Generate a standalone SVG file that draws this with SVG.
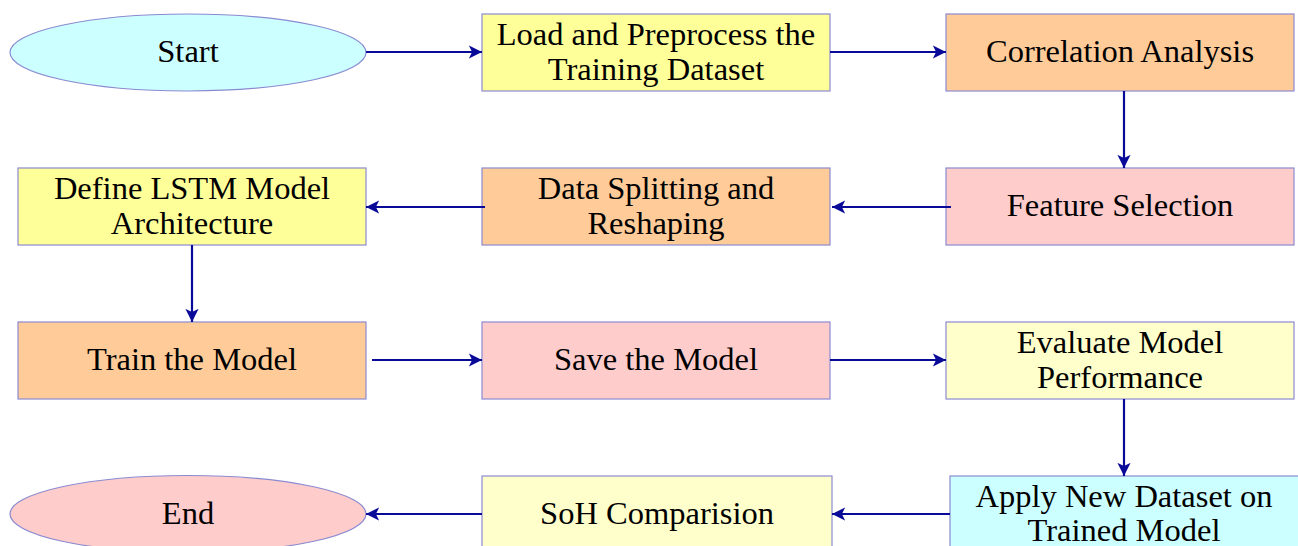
<svg xmlns="http://www.w3.org/2000/svg" width="1298" height="546" viewBox="0 0 1298 546">
<defs>
<marker id="ah" viewBox="0 0 10 10" refX="10" refY="5" markerWidth="6" markerHeight="6" orient="auto" markerUnits="strokeWidth"><path d="M0,0 L10,5 L0,10 L2.5,5 Z" fill="#0a0a99"/></marker>
<style>
.n{stroke:#8a8ad0;stroke-width:1.2}
.t{font-family:"Liberation Serif","Times New Roman",serif;font-size:32.5px;fill:#000;text-anchor:middle;dominant-baseline:central}
.c{stroke:#0a0a99;stroke-width:2.2;fill:none;marker-end:url(#ah)}
</style>
</defs>
<rect width="1298" height="546" fill="#fff"/>
<g id="start"><ellipse class="n" cx="188" cy="52.5" rx="178" ry="38.5" fill="#ccffff"/><text class="t" x="188" y="51">Start</text></g>
<g id="load"><rect class="n" x="482" y="14" width="348" height="77" fill="#ffff99"/><text class="t" x="656" y="34">Load and Preprocess the</text><text class="t" x="656" y="69">Training Dataset</text></g>
<g id="corr"><rect class="n" x="946" y="14" width="348" height="77" fill="#ffcc99"/><text class="t" x="1120" y="51">Correlation Analysis</text></g>
<g id="feature"><rect class="n" x="946" y="168" width="348" height="77" fill="#ffcccc"/><text class="t" x="1120" y="205">Feature Selection</text></g>
<g id="split"><rect class="n" x="482" y="168" width="348" height="77" fill="#ffcc99"/><text class="t" x="656" y="188">Data Splitting and</text><text class="t" x="656" y="223">Reshaping</text></g>
<g id="define"><rect class="n" x="18" y="168" width="348" height="77" fill="#ffff99"/><text class="t" x="192" y="188">Define LSTM Model</text><text class="t" x="192" y="223">Architecture</text></g>
<g id="train"><rect class="n" x="18" y="322" width="348" height="77" fill="#ffcc99"/><text class="t" x="192" y="359">Train the Model</text></g>
<g id="save"><rect class="n" x="482" y="322" width="348" height="77" fill="#ffcccc"/><text class="t" x="656" y="359">Save the Model</text></g>
<g id="evaluate"><rect class="n" x="946" y="322" width="348" height="77" fill="#ffffcc"/><text class="t" x="1120" y="342">Evaluate Model</text><text class="t" x="1120" y="377">Performance</text></g>
<g id="apply"><rect class="n" x="950" y="476" width="352" height="77" fill="#ccffff"/><text class="t" x="1124" y="496">Apply New Dataset on</text><text class="t" x="1124" y="530">Trained Model</text></g>
<g id="soh"><rect class="n" x="482" y="476" width="350" height="77" fill="#ffffcc"/><text class="t" x="657" y="513">SoH Comparision</text></g>
<g id="end"><ellipse class="n" cx="188" cy="514" rx="178" ry="38.5" fill="#ffcccc"/><text class="t" x="188" y="513">End</text></g>
<g id="connectors">
<path class="c" d="M366,52 H482"/>
<path class="c" d="M830,52 H946"/>
<path class="c" d="M1124,91 V168"/>
<path class="c" d="M951,207 H832"/>
<path class="c" d="M485,207 H366"/>
<path class="c" d="M192,245 V322"/>
<path class="c" d="M372,360 H482"/>
<path class="c" d="M830,360 H946"/>
<path class="c" d="M1124,399 V476"/>
<path class="c" d="M950,514 H832"/>
<path class="c" d="M482,514 H366"/>
</g>
</svg>
